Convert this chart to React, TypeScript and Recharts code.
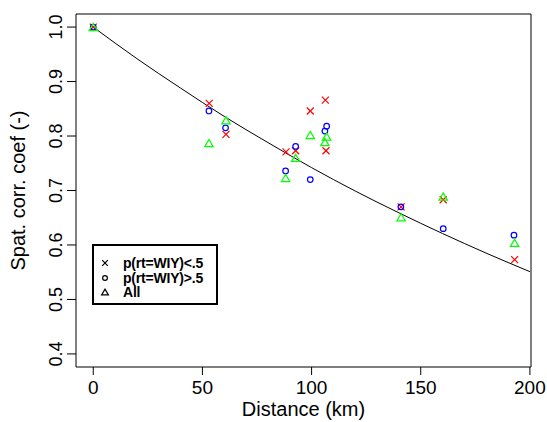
import { ComposedChart, XAxis, YAxis, Scatter, Line, ReferenceArea } from 'recharts';

// fitted curve
const fitDist = [0, 20, 40, 60, 80, 100, 120, 140, 160, 180, 200];
const fitCorr = [1.0, 0.942, 0.888, 0.836, 0.788, 0.742, 0.699, 0.659, 0.621, 0.585, 0.551];

// p(rt=WIY)<.5
const lowDist = [0, 53.1, 60.8, 88.3, 92.7, 99.4, 106.3, 106.6, 141, 160.3, 193];
const lowCorr = [1.0, 0.86, 0.803, 0.771, 0.773, 0.846, 0.866, 0.773, 0.67, 0.683, 0.573];

// p(rt=WIY)>.5
const highDist = [0, 53, 60.6, 88.1, 92.7, 99.4, 106.9, 106.1, 140.9, 160.3, 192.7];
const highCorr = [1.0, 0.846, 0.815, 0.736, 0.781, 0.72, 0.818, 0.809, 0.67, 0.63, 0.618];

// All
const allDist = [0, 53, 60.8, 88.1, 92.7, 99.4, 106.9, 106.1, 141, 160.3, 193];
const allCorr = [1.0, 0.787, 0.829, 0.723, 0.76, 0.802, 0.799, 0.789, 0.651, 0.689, 0.604];

const xTicks = [0, 50, 100, 150, 200];
const yTicks = [0.4, 0.5, 0.6, 0.7, 0.8, 0.9, 1.0];

const X_MIN = -7.9;
const X_MAX = 200.5;
const Y_MIN = 0.376;
const Y_MAX = 1.024;

const FONT = '"Liberation Sans", Arial, Helvetica, sans-serif';

const zip = (xs: number[], ys: number[]) => xs.map((x, i) => ({ x, y: ys[i] }));

const fitData = zip(fitDist, fitCorr);
const lowData = zip(lowDist, lowCorr);
const highData = zip(highDist, highCorr);
const allData = zip(allDist, allCorr);

const Cross = ({ cx, cy, color = '#ff0000', s = 3.5 }: any) => (
  <g stroke={color} strokeWidth={1.2} fill="none">
    <line x1={cx - s} y1={cy - s} x2={cx + s} y2={cy + s} />
    <line x1={cx - s} y1={cy + s} x2={cx + s} y2={cy - s} />
  </g>
);

const Ring = ({ cx, cy, color = '#0000ff', r = 2.8 }: any) => (
  <circle cx={cx} cy={cy} r={r} stroke={color} strokeWidth={1.2} fill="none" />
);

const Tri = ({ cx, cy, color = '#00ff00', w = 4.2, h = 3.6 }: any) => (
  <polygon
    points={`${cx},${cy - h} ${cx + w},${cy + h} ${cx - w},${cy + h}`}
    stroke={color}
    strokeWidth={1.2}
    fill="none"
  />
);

const XTick = ({ x, y, payload }: any) => (
  <text x={x} y={y + 17} textAnchor="middle" fontSize={19} fontFamily={FONT} fill="#000">
    {payload.value}
  </text>
);

const YTick = ({ x, y, payload }: any) => (
  <text
    x={x}
    y={y}
    transform={`rotate(-90 ${x} ${y})`}
    textAnchor="middle"
    fontSize={18}
    fontFamily={FONT}
    fill="#000"
  >
    {payload.value.toFixed(1)}
  </text>
);

const YTitle = ({ viewBox }: any) => {
  const x = viewBox.x + 25;
  const y = viewBox.y + viewBox.height / 2;
  return (
    <text x={x} y={y} transform={`rotate(-90 ${x} ${y})`} textAnchor="middle" fontSize={20} fontFamily={FONT} fill="#000">
      Spat. corr. coef (-)
    </text>
  );
};

const XTitle = ({ viewBox }: any) => (
  <text
    x={viewBox.x + viewBox.width / 2}
    y={viewBox.y + viewBox.height - 6}
    textAnchor="middle"
    fontSize={20}
    fontFamily={FONT}
    fill="#000"
  >
    Distance (km)
  </text>
);

const legendRows = [
  { label: 'p(rt=WIY)<.5', mark: 'x' },
  { label: 'p(rt=WIY)>.5', mark: 'o' },
  { label: 'All', mark: 't' },
];

const LegendBox = () => (
  <div
    style={{
      position: 'absolute',
      left: 92,
      top: 244,
      width: 126,
      height: 61,
      boxSizing: 'border-box',
      border: '2px solid #000',
      background: '#fff',
      paddingTop: 10,
      fontFamily: FONT,
      fontWeight: 'bold',
      fontSize: 14,
      lineHeight: '14.5px',
    }}
  >
    {legendRows.map((r) => (
      <div key={r.label} style={{ display: 'flex', alignItems: 'center', height: 14.5 }}>
        <svg width={24} height={14} style={{ marginLeft: 3, flexShrink: 0 }}>
          {r.mark === 'x' && <Cross cx={8} cy={7} color="#000" s={2.8} />}
          {r.mark === 'o' && <Ring cx={8} cy={7} color="#000" r={2.4} />}
          {r.mark === 't' && <Tri cx={8} cy={7} color="#000" w={3.4} h={2.9} />}
        </svg>
        <span style={{ marginLeft: 2, letterSpacing: -0.2 }}>{r.label}</span>
      </div>
    ))}
  </div>
);

export default function App() {
  return (
    <div style={{ position: 'absolute', left: 0, top: 0, width: 547, height: 422, background: '#fff' }}>
      <ComposedChart width={547} height={422} margin={{ top: 14, right: 16, bottom: 0, left: 0 }}>
        <XAxis
          type="number"
          dataKey="x"
          domain={[X_MIN, X_MAX]}
          ticks={xTicks}
          allowDataOverflow
          height={55}
          axisLine={false}
          tickLine={{ stroke: '#000' }}
          tickSize={8}
          tick={<XTick />}
          label={XTitle}
        />
        <YAxis
          type="number"
          dataKey="y"
          domain={[Y_MIN, Y_MAX]}
          ticks={yTicks}
          allowDataOverflow
          width={76}
          axisLine={false}
          tickLine={{ stroke: '#000' }}
          tickSize={9}
          tickMargin={5}
          tick={<YTick />}
          label={YTitle}
        />
        <ReferenceArea x1={X_MIN} x2={X_MAX} y1={Y_MIN} y2={Y_MAX} fill="none" stroke="#000" strokeWidth={1} fillOpacity={0} />
        <Line data={fitData} dataKey="y" type="monotone" stroke="#000" strokeWidth={1} dot={false} isAnimationActive={false} />
        <Scatter data={lowData} dataKey="y" shape={(p: any) => <Cross cx={p.cx} cy={p.cy} />} isAnimationActive={false} />
        <Scatter data={highData} dataKey="y" shape={(p: any) => <Ring cx={p.cx} cy={p.cy} />} isAnimationActive={false} />
        <Scatter data={allData} dataKey="y" shape={(p: any) => <Tri cx={p.cx} cy={p.cy} />} isAnimationActive={false} />
      </ComposedChart>
      <LegendBox />
    </div>
  );
}
